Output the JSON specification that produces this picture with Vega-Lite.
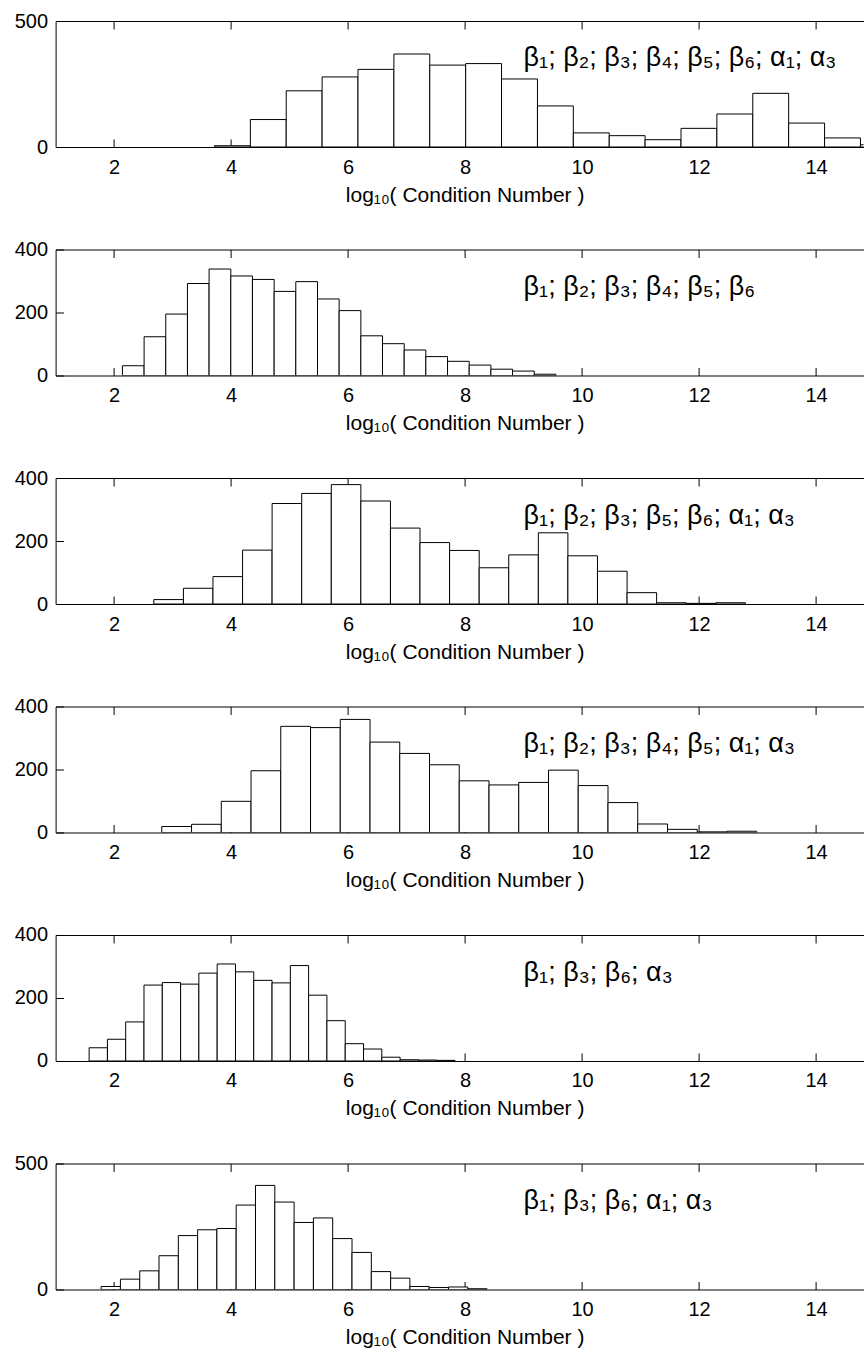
{
  "$schema": "https://vega.github.io/schema/vega-lite/v6.json",
  "background": "white",
  "padding": {"left": 13.6, "top": 11, "right": 0, "bottom": 0},
  "bounds": "flush",
  "spacing": 102.5,
  "datasets": {
    "bins": [
      {"p":1,"x0":3.715,"x1":4.329,"count":5},{"p":1,"x0":4.329,"x1":4.942,"count":109},{"p":1,"x0":4.942,"x1":5.556,"count":223},{"p":1,"x0":5.556,"x1":6.169,"count":278},{"p":1,"x0":6.169,"x1":6.783,"count":308},{"p":1,"x0":6.783,"x1":7.396,"count":369},{"p":1,"x0":7.396,"x1":8.010,"count":325},{"p":1,"x0":8.010,"x1":8.623,"count":331},{"p":1,"x0":8.623,"x1":9.237,"count":270},{"p":1,"x0":9.237,"x1":9.850,"count":163},{"p":1,"x0":9.850,"x1":10.464,"count":56},{"p":1,"x0":10.464,"x1":11.077,"count":45},{"p":1,"x0":11.077,"x1":11.691,"count":29},{"p":1,"x0":11.691,"x1":12.304,"count":74},{"p":1,"x0":12.304,"x1":12.918,"count":131},{"p":1,"x0":12.918,"x1":13.531,"count":213},{"p":1,"x0":13.531,"x1":14.145,"count":95},{"p":1,"x0":14.145,"x1":14.758,"count":36},{"p":1,"x0":14.758,"x1":15.372,"count":9},
      {"p":2,"x0":2.142,"x1":2.513,"count":31},{"p":2,"x0":2.513,"x1":2.883,"count":123},{"p":2,"x0":2.883,"x1":3.254,"count":195},{"p":2,"x0":3.254,"x1":3.624,"count":292},{"p":2,"x0":3.624,"x1":3.995,"count":338},{"p":2,"x0":3.995,"x1":4.365,"count":316},{"p":2,"x0":4.365,"x1":4.736,"count":305},{"p":2,"x0":4.736,"x1":5.106,"count":267},{"p":2,"x0":5.106,"x1":5.477,"count":298},{"p":2,"x0":5.477,"x1":5.847,"count":243},{"p":2,"x0":5.847,"x1":6.218,"count":206},{"p":2,"x0":6.218,"x1":6.588,"count":126},{"p":2,"x0":6.588,"x1":6.959,"count":101},{"p":2,"x0":6.959,"x1":7.329,"count":81},{"p":2,"x0":7.329,"x1":7.700,"count":60},{"p":2,"x0":7.700,"x1":8.070,"count":45},{"p":2,"x0":8.070,"x1":8.441,"count":33},{"p":2,"x0":8.441,"x1":8.811,"count":20},{"p":2,"x0":8.811,"x1":9.182,"count":14},{"p":2,"x0":9.182,"x1":9.552,"count":4},
      {"p":3,"x0":2.679,"x1":3.185,"count":14},{"p":3,"x0":3.185,"x1":3.690,"count":50},{"p":3,"x0":3.690,"x1":4.196,"count":87},{"p":3,"x0":4.196,"x1":4.701,"count":171},{"p":3,"x0":4.701,"x1":5.207,"count":319},{"p":3,"x0":5.207,"x1":5.713,"count":351},{"p":3,"x0":5.713,"x1":6.218,"count":379},{"p":3,"x0":6.218,"x1":6.724,"count":327},{"p":3,"x0":6.724,"x1":7.229,"count":241},{"p":3,"x0":7.229,"x1":7.735,"count":195},{"p":3,"x0":7.735,"x1":8.241,"count":170},{"p":3,"x0":8.241,"x1":8.746,"count":115},{"p":3,"x0":8.746,"x1":9.252,"count":156},{"p":3,"x0":9.252,"x1":9.757,"count":226},{"p":3,"x0":9.757,"x1":10.263,"count":153},{"p":3,"x0":10.263,"x1":10.769,"count":104},{"p":3,"x0":10.769,"x1":11.274,"count":36},{"p":3,"x0":11.274,"x1":11.780,"count":4},{"p":3,"x0":11.780,"x1":12.285,"count":2},{"p":3,"x0":12.285,"x1":12.791,"count":4},
      {"p":4,"x0":2.815,"x1":3.324,"count":19},{"p":4,"x0":3.324,"x1":3.832,"count":26},{"p":4,"x0":3.832,"x1":4.341,"count":99},{"p":4,"x0":4.341,"x1":4.849,"count":196},{"p":4,"x0":4.849,"x1":5.358,"count":337},{"p":4,"x0":5.358,"x1":5.866,"count":333},{"p":4,"x0":5.866,"x1":6.375,"count":359},{"p":4,"x0":6.375,"x1":6.883,"count":287},{"p":4,"x0":6.883,"x1":7.392,"count":251},{"p":4,"x0":7.392,"x1":7.900,"count":215},{"p":4,"x0":7.900,"x1":8.409,"count":164},{"p":4,"x0":8.409,"x1":8.917,"count":151},{"p":4,"x0":8.917,"x1":9.426,"count":159},{"p":4,"x0":9.426,"x1":9.934,"count":198},{"p":4,"x0":9.934,"x1":10.443,"count":149},{"p":4,"x0":10.443,"x1":10.951,"count":95},{"p":4,"x0":10.951,"x1":11.460,"count":27},{"p":4,"x0":11.460,"x1":11.968,"count":10},{"p":4,"x0":11.968,"x1":12.477,"count":2},{"p":4,"x0":12.477,"x1":12.985,"count":4},
      {"p":5,"x0":1.573,"x1":1.886,"count":42},{"p":5,"x0":1.886,"x1":2.198,"count":69},{"p":5,"x0":2.198,"x1":2.511,"count":124},{"p":5,"x0":2.511,"x1":2.824,"count":241},{"p":5,"x0":2.824,"x1":3.137,"count":249},{"p":5,"x0":3.137,"x1":3.449,"count":244},{"p":5,"x0":3.449,"x1":3.762,"count":279},{"p":5,"x0":3.762,"x1":4.075,"count":308},{"p":5,"x0":4.075,"x1":4.387,"count":283},{"p":5,"x0":4.387,"x1":4.700,"count":256},{"p":5,"x0":4.700,"x1":5.013,"count":248},{"p":5,"x0":5.013,"x1":5.325,"count":303},{"p":5,"x0":5.325,"x1":5.638,"count":209},{"p":5,"x0":5.638,"x1":5.951,"count":128},{"p":5,"x0":5.951,"x1":6.264,"count":55},{"p":5,"x0":6.264,"x1":6.576,"count":38},{"p":5,"x0":6.576,"x1":6.889,"count":12},{"p":5,"x0":6.889,"x1":7.202,"count":4},{"p":5,"x0":7.202,"x1":7.514,"count":3},{"p":5,"x0":7.514,"x1":7.827,"count":2},
      {"p":6,"x0":1.778,"x1":2.108,"count":12},{"p":6,"x0":2.108,"x1":2.438,"count":41},{"p":6,"x0":2.438,"x1":2.768,"count":74},{"p":6,"x0":2.768,"x1":3.098,"count":134},{"p":6,"x0":3.098,"x1":3.428,"count":214},{"p":6,"x0":3.428,"x1":3.757,"count":237},{"p":6,"x0":3.757,"x1":4.087,"count":242},{"p":6,"x0":4.087,"x1":4.417,"count":335},{"p":6,"x0":4.417,"x1":4.747,"count":413},{"p":6,"x0":4.747,"x1":5.077,"count":347},{"p":6,"x0":5.077,"x1":5.407,"count":266},{"p":6,"x0":5.407,"x1":5.737,"count":284},{"p":6,"x0":5.737,"x1":6.067,"count":202},{"p":6,"x0":6.067,"x1":6.397,"count":147},{"p":6,"x0":6.397,"x1":6.727,"count":71},{"p":6,"x0":6.727,"x1":7.056,"count":45},{"p":6,"x0":7.056,"x1":7.386,"count":12},{"p":6,"x0":7.386,"x1":7.716,"count":8},{"p":6,"x0":7.716,"x1":8.046,"count":10},{"p":6,"x0":8.046,"x1":8.376,"count":3}
    ],
    "labels": [
      {"p":1,"x":9,"y":320,"label":"β₁; β₂; β₃; β₄; β₅; β₆; α₁; α₃"},
      {"p":2,"x":9,"y":255,"label":"β₁; β₂; β₃; β₄; β₅; β₆"},
      {"p":3,"x":9,"y":255,"label":"β₁; β₂; β₃; β₅; β₆; α₁; α₃"},
      {"p":4,"x":9,"y":255,"label":"β₁; β₂; β₃; β₄; β₅; α₁; α₃"},
      {"p":5,"x":9,"y":255,"label":"β₁; β₃; β₆; α₃"},
      {"p":6,"x":9,"y":320,"label":"β₁; β₃; β₆; α₁; α₃"}
    ]
  },
  "vconcat": [
    {"width":808,"height":126,"resolve":{"axis":{"x":"independent"}},"layer":[
      {"data":{"name":"bins"},"transform":[{"filter":"datum.p == 1"}],
       "mark":{"type":"rect","fill":"white","stroke":"black","strokeWidth":1,"clip":true},
       "encoding":{
         "x":{"field":"x0","type":"quantitative","scale":{"domain":[1,14.812],"nice":false,"zero":false},"axis":{"orient":"bottom","values":[2,4,6,8,10,12,14],"labelPadding":18,"title":"log₁₀( Condition Number )","titleX":409,"titleY":54,"titleBaseline":"alphabetic","titleAlign":"center"}},
         "x2":{"field":"x1"},
         "y":{"field":"count","type":"quantitative","scale":{"domain":[0,500],"nice":false},"axis":{"values":[0,500],"labelPadding":16,"title":null}},
         "y2":{"datum":0}}},
      {"data":{"name":"labels"},"transform":[{"filter":"datum.p == 1"}],
       "mark":{"type":"text","align":"left","baseline":"alphabetic","fontSize":27,"font":"Liberation Sans","color":"black"},
       "encoding":{
         "x":{"field":"x","type":"quantitative","axis":{"orient":"top","values":[2,4,6,8,10,12,14],"labels":false,"title":null}},
         "y":{"field":"y","type":"quantitative","axis":{"values":[0,500],"labelPadding":16,"title":null}},
         "text":{"field":"label"}}}
    ]},
    {"width":808,"height":126,"resolve":{"axis":{"x":"independent"}},"layer":[
      {"data":{"name":"bins"},"transform":[{"filter":"datum.p == 2"}],
       "mark":{"type":"rect","fill":"white","stroke":"black","strokeWidth":1,"clip":true},
       "encoding":{
         "x":{"field":"x0","type":"quantitative","scale":{"domain":[1,14.812],"nice":false,"zero":false},"axis":{"orient":"bottom","values":[2,4,6,8,10,12,14],"labelPadding":18,"title":"log₁₀( Condition Number )","titleX":409,"titleY":54,"titleBaseline":"alphabetic","titleAlign":"center"}},
         "x2":{"field":"x1"},
         "y":{"field":"count","type":"quantitative","scale":{"domain":[0,400],"nice":false},"axis":{"values":[0,200,400],"labelPadding":16,"title":null}},
         "y2":{"datum":0}}},
      {"data":{"name":"labels"},"transform":[{"filter":"datum.p == 2"}],
       "mark":{"type":"text","align":"left","baseline":"alphabetic","fontSize":27,"font":"Liberation Sans","color":"black"},
       "encoding":{
         "x":{"field":"x","type":"quantitative","axis":{"orient":"top","values":[2,4,6,8,10,12,14],"labels":false,"title":null}},
         "y":{"field":"y","type":"quantitative","axis":{"values":[0,200,400],"labelPadding":16,"title":null}},
         "text":{"field":"label"}}}
    ]},
    {"width":808,"height":126,"resolve":{"axis":{"x":"independent"}},"layer":[
      {"data":{"name":"bins"},"transform":[{"filter":"datum.p == 3"}],
       "mark":{"type":"rect","fill":"white","stroke":"black","strokeWidth":1,"clip":true},
       "encoding":{
         "x":{"field":"x0","type":"quantitative","scale":{"domain":[1,14.812],"nice":false,"zero":false},"axis":{"orient":"bottom","values":[2,4,6,8,10,12,14],"labelPadding":18,"title":"log₁₀( Condition Number )","titleX":409,"titleY":54,"titleBaseline":"alphabetic","titleAlign":"center"}},
         "x2":{"field":"x1"},
         "y":{"field":"count","type":"quantitative","scale":{"domain":[0,400],"nice":false},"axis":{"values":[0,200,400],"labelPadding":16,"title":null}},
         "y2":{"datum":0}}},
      {"data":{"name":"labels"},"transform":[{"filter":"datum.p == 3"}],
       "mark":{"type":"text","align":"left","baseline":"alphabetic","fontSize":27,"font":"Liberation Sans","color":"black"},
       "encoding":{
         "x":{"field":"x","type":"quantitative","axis":{"orient":"top","values":[2,4,6,8,10,12,14],"labels":false,"title":null}},
         "y":{"field":"y","type":"quantitative","axis":{"values":[0,200,400],"labelPadding":16,"title":null}},
         "text":{"field":"label"}}}
    ]},
    {"width":808,"height":126,"resolve":{"axis":{"x":"independent"}},"layer":[
      {"data":{"name":"bins"},"transform":[{"filter":"datum.p == 4"}],
       "mark":{"type":"rect","fill":"white","stroke":"black","strokeWidth":1,"clip":true},
       "encoding":{
         "x":{"field":"x0","type":"quantitative","scale":{"domain":[1,14.812],"nice":false,"zero":false},"axis":{"orient":"bottom","values":[2,4,6,8,10,12,14],"labelPadding":18,"title":"log₁₀( Condition Number )","titleX":409,"titleY":54,"titleBaseline":"alphabetic","titleAlign":"center"}},
         "x2":{"field":"x1"},
         "y":{"field":"count","type":"quantitative","scale":{"domain":[0,400],"nice":false},"axis":{"values":[0,200,400],"labelPadding":16,"title":null}},
         "y2":{"datum":0}}},
      {"data":{"name":"labels"},"transform":[{"filter":"datum.p == 4"}],
       "mark":{"type":"text","align":"left","baseline":"alphabetic","fontSize":27,"font":"Liberation Sans","color":"black"},
       "encoding":{
         "x":{"field":"x","type":"quantitative","axis":{"orient":"top","values":[2,4,6,8,10,12,14],"labels":false,"title":null}},
         "y":{"field":"y","type":"quantitative","axis":{"values":[0,200,400],"labelPadding":16,"title":null}},
         "text":{"field":"label"}}}
    ]},
    {"width":808,"height":126,"resolve":{"axis":{"x":"independent"}},"layer":[
      {"data":{"name":"bins"},"transform":[{"filter":"datum.p == 5"}],
       "mark":{"type":"rect","fill":"white","stroke":"black","strokeWidth":1,"clip":true},
       "encoding":{
         "x":{"field":"x0","type":"quantitative","scale":{"domain":[1,14.812],"nice":false,"zero":false},"axis":{"orient":"bottom","values":[2,4,6,8,10,12,14],"labelPadding":18,"title":"log₁₀( Condition Number )","titleX":409,"titleY":54,"titleBaseline":"alphabetic","titleAlign":"center"}},
         "x2":{"field":"x1"},
         "y":{"field":"count","type":"quantitative","scale":{"domain":[0,400],"nice":false},"axis":{"values":[0,200,400],"labelPadding":16,"title":null}},
         "y2":{"datum":0}}},
      {"data":{"name":"labels"},"transform":[{"filter":"datum.p == 5"}],
       "mark":{"type":"text","align":"left","baseline":"alphabetic","fontSize":27,"font":"Liberation Sans","color":"black"},
       "encoding":{
         "x":{"field":"x","type":"quantitative","axis":{"orient":"top","values":[2,4,6,8,10,12,14],"labels":false,"title":null}},
         "y":{"field":"y","type":"quantitative","axis":{"values":[0,200,400],"labelPadding":16,"title":null}},
         "text":{"field":"label"}}}
    ]},
    {"width":808,"height":126,"resolve":{"axis":{"x":"independent"}},"layer":[
      {"data":{"name":"bins"},"transform":[{"filter":"datum.p == 6"}],
       "mark":{"type":"rect","fill":"white","stroke":"black","strokeWidth":1,"clip":true},
       "encoding":{
         "x":{"field":"x0","type":"quantitative","scale":{"domain":[1,14.812],"nice":false,"zero":false},"axis":{"orient":"bottom","values":[2,4,6,8,10,12,14],"labelPadding":18,"title":"log₁₀( Condition Number )","titleX":409,"titleY":54,"titleBaseline":"alphabetic","titleAlign":"center"}},
         "x2":{"field":"x1"},
         "y":{"field":"count","type":"quantitative","scale":{"domain":[0,500],"nice":false},"axis":{"values":[0,500],"labelPadding":16,"title":null}},
         "y2":{"datum":0}}},
      {"data":{"name":"labels"},"transform":[{"filter":"datum.p == 6"}],
       "mark":{"type":"text","align":"left","baseline":"alphabetic","fontSize":27,"font":"Liberation Sans","color":"black"},
       "encoding":{
         "x":{"field":"x","type":"quantitative","axis":{"orient":"top","values":[2,4,6,8,10,12,14],"labels":false,"title":null}},
         "y":{"field":"y","type":"quantitative","axis":{"values":[0,500],"labelPadding":16,"title":null}},
         "text":{"field":"label"}}}
    ]}
  ],
  "config": {
    "font": "Liberation Sans",
    "view": {"stroke": null},
    "axis": {"grid": false, "domainColor": "black", "tickColor": "black", "labelColor": "black", "titleColor": "black", "labelFont": "Liberation Sans", "titleFont": "Liberation Sans", "labelFontSize": 20, "titleFontSize": 21, "titleFontWeight": "normal", "domainWidth": 1, "tickWidth": 1, "tickSize": -8}
  }
}
